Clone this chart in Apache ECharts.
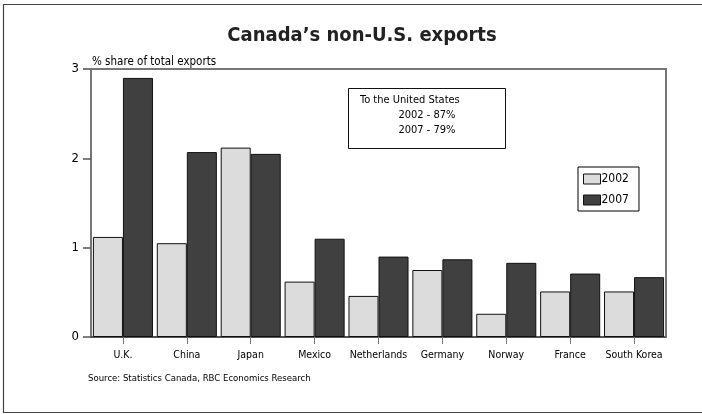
<!DOCTYPE html>
<html>
<head>
<meta charset="utf-8">
<script src="https://cdn.jsdelivr.net/npm/echarts@6/dist/echarts.min.js"></script>
<style>
html,body{margin:0;padding:0;background:#fff;}
#c{width:702px;height:414px;}
</style>
</head>
<body>
<div id="c"></div>
<script>
var categories = ['U.K.', 'China', 'Japan', 'Mexico', 'Netherlands', 'Germany', 'Norway', 'France', 'South Korea'];
var values2002 = [1.12, 1.05, 2.12, 0.62, 0.46, 0.75, 0.26, 0.51, 0.51];
var values2007 = [2.90, 2.07, 2.05, 1.10, 0.90, 0.87, 0.83, 0.71, 0.67];
var seriesNames = ['2002', '2007'];
var yTicks = [0, 1, 2, 3];
var titleText = 'Canada\u2019s non-U.S. exports';
var yAxisTitle = '% share of total exports';
var noteLines = ['To the United States', '2002 - 87%', '2007 - 79%'];
var sourceText = 'Source: Statistics Canada, RBC Economics Research';

var FONT = '"Liberation Sans Narrow", "DejaVu Sans Condensed", "Liberation Sans", sans-serif';
var chart = echarts.init(document.getElementById('c'), null, {renderer: 'canvas'});
var option = {
  animation: false,
  backgroundColor: '#fff',
  textStyle: {fontFamily: FONT, color: '#000'},
  title: {
    text: titleText, left: 357, top: 21, textAlign: 'center',
    textStyle: {fontFamily: FONT, fontSize: 20, fontWeight: 'bold', color: '#222'}
  },
  grid: {left: 91, right: 36, top: 69, bottom: 77, containLabel: false},
  legend: {
    orient: 'vertical', left: 578, top: 167,
    data: seriesNames,
    icon: 'rect',
    itemWidth: 17, itemHeight: 10, itemGap: 9,
    itemStyle: {borderWidth: 1, borderColor: '#111'},
    backgroundColor: '#fff', borderColor: '#000', borderWidth: 1,
    padding: [6, 10, 5, 5],
    textStyle: {fontFamily: FONT, fontSize: 12, color: '#000', padding: [0, 0, 0, -4]}
  },
  xAxis: {
    type: 'category', data: categories,
    axisLine: {show: true, lineStyle: {color: '#555', width: 2}},
    axisTick: {show: true, alignWithLabel: true, length: 7, lineStyle: {color: '#777', width: 1}},
    axisLabel: {fontFamily: FONT, fontSize: 10.5, color: '#000', margin: 13, interval: 0},
    splitLine: {show: false}
  },
  yAxis: {
    type: 'value', min: yTicks[0], max: yTicks[yTicks.length - 1], interval: 1,
    axisLine: {show: true, lineStyle: {color: '#777', width: 2}},
    axisTick: {show: true, inside: false, length: 8, lineStyle: {color: '#555', width: 1.5}},
    axisLabel: {fontFamily: FONT, fontSize: 13, color: '#000', margin: 12},
    splitLine: {show: false}
  },
  series: [
    {
      name: seriesNames[0], type: 'bar', data: values2002,
      barGap: '0%', barCategoryGap: '6%',
      itemStyle: {color: '#dcdcdc', borderColor: '#111', borderWidth: 1}
    },
    {
      name: seriesNames[1], type: 'bar', data: values2007,
      itemStyle: {color: '#404040', borderColor: '#111', borderWidth: 1}
    }
  ],
  graphic: [
    {type: 'rect', shape: {x: 3.5, y: 4.5, width: 720, height: 408}, style: {fill: 'none', stroke: '#444', lineWidth: 1.2}, silent: true, z: 100},
    {type: 'polyline', shape: {points: [[83, 69], [666, 69], [666, 337]]}, style: {fill: 'none', stroke: '#777', lineWidth: 2}, silent: true, z: 100},
    {type: 'text', left: 92, top: 56, style: {text: yAxisTitle, fontFamily: FONT, fontSize: 11.5, fill: '#000'}},
    {type: 'rect', shape: {x: 348.5, y: 88.5, width: 157, height: 60}, style: {fill: '#fff', stroke: '#111', lineWidth: 1}, z: 50},
    {type: 'text', x: 360, y: 95, style: {text: noteLines[0], fontFamily: FONT, fontSize: 11, fill: '#000'}, z: 51},
    {type: 'text', x: 427, y: 110, style: {text: noteLines[1], textAlign: 'center', fontFamily: FONT, fontSize: 11, fill: '#000'}, z: 51},
    {type: 'text', x: 427, y: 125, style: {text: noteLines[2], textAlign: 'center', fontFamily: FONT, fontSize: 11, fill: '#000'}, z: 51},
    {type: 'text', x: 88, y: 374, style: {text: sourceText, fontFamily: FONT, fontSize: 9.5, fill: '#000'}}
  ]
};
chart.setOption(option);
</script>
</body>
</html>
